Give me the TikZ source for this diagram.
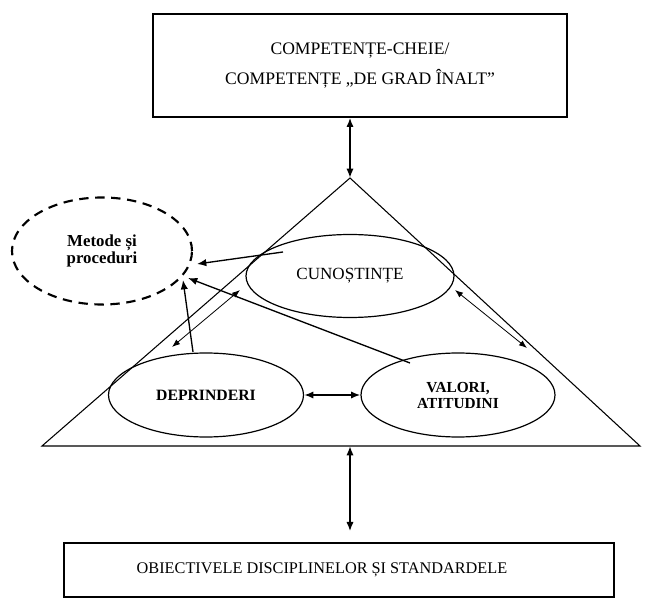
\documentclass[tikz,border=0pt]{standalone}
\usepackage{fontspec}
\setmainfont{Liberation Serif}
\usetikzlibrary{shapes.geometric,arrows.meta}
\begin{document}
\begin{tikzpicture}[x=0.75pt,y=-0.75pt,
  box/.style={draw,inner sep=0pt,align=center},
  ell/.style={draw,ellipse,inner sep=0pt,line width=0.9pt,align=center},
  arr/.style={-{Latex[length=7pt,width=5.5pt]},line width=1pt},
  dbl/.style={{Latex[length=7pt,width=5.5pt]}-{Latex[length=7pt,width=5.5pt]},line width=1.5pt},
  thindbl/.style={{Latex[length=6pt,width=4.5pt]}-{Latex[length=6pt,width=4.5pt]},line width=0.6pt}
]
\useasboundingbox (0,0) rectangle (651,599);

% top box
\node[box,line width=1pt,minimum width=310.5pt,minimum height=77.25pt,
      font=\fontsize{13.2}{22.5}\selectfont] (top) at (360,65.5)
      {COMPETENȚE-CHEIE/\\COMPETENȚE „DE GRAD ÎNALT”};

% bottom box
\node[box,line width=1.5pt,minimum width=412.5pt,minimum height=40.5pt] (bot) at (339,570) {};
\node[font=\fontsize{12.2}{13}\selectfont,inner sep=0pt] (bottext) at (322,570)
      {OBIECTIVELE DISCIPLINELOR ȘI STANDARDELE};

% triangle
\coordinate (apex) at (350,178);
\coordinate (bl) at (42,446);
\coordinate (br) at (640,446);
\coordinate (basemid) at (350,446);
\draw[line width=0.8pt] (apex) -- (bl) -- (br) -- cycle;

% ellipses
\node[ell,minimum width=156pt,minimum height=62.25pt,
      font=\fontsize{12.8}{13}\selectfont] (cuno) at (350,276) {CUNOȘTINȚE};
\node[ell,minimum width=146.25pt,minimum height=63pt,
      font=\bfseries\fontsize{11.8}{13}\selectfont] (depr) at (206,395) {DEPRINDERI};
\node[ell,minimum width=145.5pt,minimum height=63pt,
      font=\bfseries\fontsize{11.5}{12}\selectfont] (val) at (458,395) {VALORI,\\ATITUDINI};
\node[ell,dashed,dash pattern=on 7pt off 5pt,line width=1.6pt,
      minimum width=135pt,minimum height=80.25pt,
      font=\bfseries\fontsize{12.6}{12.75}\selectfont] (met) at (102,251) {Metode și\\proceduri};

% connectors
\draw[dbl] (apex |- top.south) -- (apex);
\draw[dbl,shorten >=8pt] (basemid) -- (basemid |- bot.north);
\draw[dbl] (depr.east) -- (val.west);
\draw[thindbl] ([shift={(-110,14)}]cuno.center) -- ([shift={(-34,-48)}]depr.center);
\draw[thindbl] ([shift={(105,14)}]cuno.center) -- ([shift={(69,-47)}]val.center);
\draw[arr] ([shift={(-67,-24)}]cuno.center) -- ([shift={(95,13)}]met.center);
\draw[arr] ([shift={(-13,-43)}]depr.center) -- ([shift={(81,29)}]met.center);
\draw[arr] ([shift={(-48,-32)}]val.center) -- ([shift={(86,27)}]met.center);
\end{tikzpicture}
\end{document}
